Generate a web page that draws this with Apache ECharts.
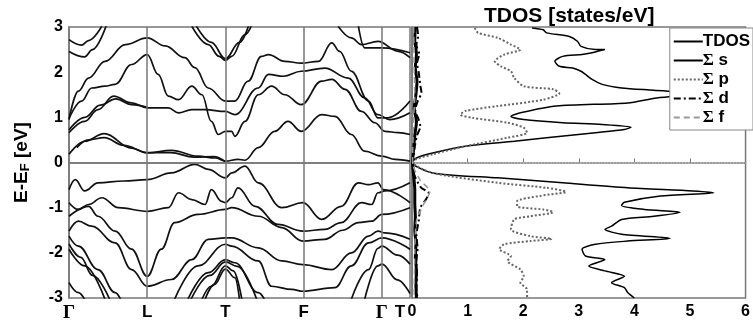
<!DOCTYPE html>
<html>
<head>
<meta charset="utf-8">
<script src="https://cdn.jsdelivr.net/npm/echarts@6/dist/echarts.min.js"></script>
<style>
  html, body { margin: 0; padding: 0; background: #fff; }
  #chart { width: 753px; height: 326px; }
</style>
</head>
<body>
<div id="chart"></div>
<script>
// high-symmetry points along the k path
const kPoints = [0, 1, 2, 3, 4, 4.36];
const kLabels = ['Γ', 'L', 'T', 'F', 'Γ', 'T'];
const energyTicks = [-3, -2, -1, 0, 1, 2, 3];
const dosTicks = [0, 1, 2, 3, 4, 5, 6];

// bands: [k, E-EF]
const bandC1 = [[0,0.18],[0.2,0.47],[0.45,0.64],[0.8,0.32],[1.0,0.21],[1.31,0.27],[1.65,0.14],[1.87,0.1],[2.0,0.03],[2.16,0.07],[2.25,0.05],[2.42,0.33],[2.63,0.69],[2.8,0.91],[2.97,0.69],[3.23,1.06],[3.4,1.02],[3.61,0.62],[3.78,0.25],[4.0,0.14],[4.17,0.07],[4.36,0.03]];
const bandC1b = [[0.1,0.33],[0.25,0.5],[0.45,0.55],[0.7,0.38],[1.0,0.22],[1.3,0.22],[1.6,0.12],[1.85,0.13],[2.0,0.02]];
const bandC2 = [[0,0.66],[0.2,0.91],[0.37,1.17],[0.57,1.47],[0.8,1.32],[1.0,1.21],[1.27,1.21],[1.4,1.1],[1.57,1.17],[1.74,1.17],[2.0,1.13],[2.12,1.06],[2.42,1.65],[2.55,1.95],[2.74,1.91],[2.97,2.02],[3.27,2.09],[3.57,1.87],[3.78,1.43],[3.95,1.06],[4.1,0.95],[4.36,1.1]];
const bandC2b = [[0,0.72],[0.2,1.0],[0.4,1.27],[0.6,1.41],[0.8,1.28],[1.0,1.22]];
const bandC3 = [[0,0.97],[0.16,1.36],[0.29,1.65],[0.46,1.69],[0.59,1.73],[0.8,2.17],[1.0,2.39],[1.14,1.95],[1.27,1.47],[1.4,1.39],[1.57,1.69],[1.7,1.5],[1.82,0.91],[1.91,0.62],[2.0,0.69],[2.08,0.69],[2.12,0.58],[2.25,0.91],[2.42,1.5],[2.59,1.69],[2.76,1.5],[2.97,1.28],[3.23,1.8],[3.36,1.84],[3.53,1.62],[3.74,1.13],[3.91,0.88],[4.04,0.69],[4.21,0.66],[4.36,0.62]];
const bandC4 = [[0,0.95],[0.12,1.58],[0.25,1.87],[0.46,2.24],[0.72,2.61],[1.0,2.76],[1.23,2.58],[1.48,2.32],[1.61,2.1],[1.78,1.65],[2.0,1.36],[2.12,1.36],[2.29,1.8],[2.46,2.35],[2.55,2.39],[2.76,2.24],[2.97,2.2],[3.19,2.24],[3.36,2.65],[3.46,2.46],[3.61,2.02],[3.83,1.36],[3.95,0.99],[4.08,0.99],[4.36,1.36]];
const bandC5 = [[0,2.72],[0.16,2.6],[0.25,2.7],[0.42,3.02]];
const bandC6 = [[0,2.46],[0.2,2.34],[0.3,2.5],[0.48,3.05]];
const bandC7 = [[1.57,3.02],[1.78,2.61],[1.92,2.35],[2.0,2.26],[2.08,2.35],[2.25,2.83],[2.33,3.02]];
const bandC7b = [[1.62,3.05],[1.82,2.66],[2.0,2.3],[2.18,2.66],[2.3,3.05]];
const bandC8 = [[3.44,3.02],[3.61,2.76],[3.74,2.61],[3.95,2.68],[4.21,2.46],[4.36,2.32]];
const bandC9 = [[3.7,3.02],[3.78,2.54],[4.0,2.54],[4.36,2.43]];
const bandV1 = [[0,-0.6],[0.08,-0.38],[0.2,-0.63],[0.37,-0.45],[0.7,-0.41],[1.0,-0.38],[1.31,-0.23],[1.61,-0.04],[1.78,-0.15],[2.0,-0.34],[2.08,-0.23],[2.25,-0.08],[2.42,-0.45],[2.72,-1.0],[2.99,-0.89],[3.23,-1.26],[3.48,-0.97],[3.7,-0.45],[3.83,-0.49],[3.95,-0.45],[4.02,-0.6],[4.36,-0.89]];
const bandV2 = [[0,-0.89],[0.12,-1.04],[0.25,-0.93],[0.42,-0.78],[0.63,-1.0],[1.0,-1.08],[1.27,-1.0],[1.4,-0.67],[1.57,-0.82],[1.74,-0.93],[1.82,-0.6],[1.95,-0.86],[2.0,-0.89],[2.08,-0.78],[2.16,-0.56],[2.38,-0.97],[2.67,-1.37],[2.99,-1.52],[3.27,-1.48],[3.48,-1.33],[3.74,-0.89],[3.87,-0.93],[3.95,-0.67],[4.04,-0.63],[4.36,-0.45]];
const bandV3 = [[0,-1.19],[0.25,-0.97],[0.37,-1.19],[0.59,-1.52],[0.8,-1.92],[1.0,-2.52],[1.18,-1.92],[1.35,-1.33],[1.65,-1.15],[2.0,-1.04],[2.08,-1.0],[2.42,-1.19],[2.72,-1.44],[2.99,-1.74],[3.27,-1.7],[3.5,-1.5],[3.7,-1.33],[3.87,-1.3],[4.0,-1.15],[4.36,-1.0]];
const bandV4 = [[0,-1.52],[0.12,-1.3],[0.29,-1.41],[0.59,-1.78],[0.8,-2.37],[1.0,-2.74],[1.31,-2.59],[1.57,-2.15],[1.78,-1.7],[2.0,-1.67],[2.08,-1.67],[2.42,-1.89],[2.72,-2.18],[2.99,-2.26],[3.36,-2.37],[3.61,-2.0],[3.83,-1.63],[3.95,-1.52],[4.04,-1.56],[4.36,-1.7]];
const bandV5 = [[1.35,-3.03],[1.65,-2.29],[2.0,-1.81],[2.08,-1.85],[2.42,-2.18],[2.59,-2.74],[2.85,-2.81],[2.99,-2.85],[3.4,-2.77],[3.61,-2.29],[3.83,-1.78],[4.0,-1.67],[4.36,-1.92]];
const bandV6 = [[1.52,-3.03],[1.78,-2.44],[2.0,-2.15],[2.12,-2.22],[2.42,-2.88],[2.5,-3.03]];
const bandV6b = [[1.56,-3.03],[1.8,-2.5],[2.0,-2.2],[2.15,-2.3],[2.4,-3.03]];
const bandV7 = [[1.7,-3.03],[1.82,-2.74],[2.0,-2.29],[2.1,-2.4],[2.21,-3.03]];
const bandV7b = [[1.74,-3.03],[1.86,-2.7],[2.0,-2.36],[2.12,-2.55],[2.18,-3.03]];
const bandV8 = [[0,-1.63],[0.12,-1.85],[0.37,-2.37],[0.59,-2.88],[0.66,-3.03]];
const bandV9 = [[0,-1.92],[0.2,-2.29],[0.46,-3.03]];
const bandV9b = [[0,-1.8],[0.15,-2.1],[0.3,-2.5],[0.52,-3.03]];
const bandV10 = [[0,-2.66],[0.12,-2.88],[0.2,-3.03]];
const bandV11 = [[3.61,-3.03],[3.83,-2.37],[3.95,-1.9],[4.0,-1.85],[4.2,-2.05],[4.36,-2.25]];
const bandV12 = [[3.78,-3.03],[3.95,-2.29],[4.0,-2.25],[4.2,-2.6],[4.36,-2.9]];

const bands = [bandC1, bandC1b, bandC2, bandC2b, bandC3, bandC4, bandC5, bandC6, bandC7, bandC7b,
  bandC8, bandC9, bandV1, bandV2, bandV3, bandV4, bandV5, bandV6, bandV6b, bandV7, bandV7b,
  bandV8, bandV9, bandV9b, bandV10, bandV11, bandV12];

// DOS curves: [states/eV, E-EF]
const tdos = [[2.16,2.98],[2.36,2.94],[2.42,2.87],[2.83,2.79],[2.98,2.68],[3.04,2.57],[3.3,2.5],[3.47,2.5],[3.24,2.43],[3.06,2.39],[2.71,2.35],[2.57,2.24],[2.65,2.13],[2.89,2.09],[3.04,2.02],[3.12,1.95],[3.24,1.84],[3.42,1.73],[3.77,1.65],[4.35,1.6],[5.2,1.52],[4.4,1.43],[3.88,1.32],[2.6,1.25],[1.95,1.1],[1.78,1.02],[2.01,0.95],[2.71,0.88],[3.42,0.84],[3.94,0.78],[3.82,0.73],[3.3,0.66],[2.42,0.55],[1.84,0.47],[0.96,0.36],[0.37,0.21],[0.08,0.1],[0.0,0.0],[0.37,-0.23],[1.54,-0.34],[2.71,-0.45],[3.88,-0.56],[5.05,-0.63],[5.43,-0.67],[4.47,-0.74],[3.82,-0.88],[3.77,-0.95],[4.18,-1.04],[4.82,-1.1],[4.35,-1.19],[3.77,-1.26],[3.59,-1.41],[3.47,-1.48],[3.77,-1.59],[4.64,-1.68],[3.88,-1.74],[3.3,-1.81],[3.06,-1.92],[3.12,-2.07],[3.47,-2.15],[3.18,-2.29],[3.47,-2.4],[3.82,-2.52],[3.59,-2.66],[3.82,-2.77],[3.88,-2.88],[4.0,-3.0]];
const dosS = [[0.06,3.0],[0.05,2.7],[0.08,2.4],[0.06,2.1],[0.09,1.8],[0.07,1.5],[0.04,1.2],[0.08,0.9],[0.05,0.6],[0.03,0.3],[0.01,0.0],[0.03,-0.3],[0.05,-0.6],[0.05,-0.9],[0.06,-1.2],[0.05,-1.5],[0.07,-1.8],[0.06,-2.1],[0.08,-2.4],[0.07,-2.7],[0.08,-3.0]];
const dosP = [[1.13,2.98],[1.19,2.87],[1.54,2.76],[1.78,2.61],[1.95,2.5],[1.66,2.39],[1.49,2.24],[1.6,2.13],[1.78,2.02],[1.84,1.87],[2.01,1.69],[2.54,1.62],[2.65,1.53],[2.36,1.39],[1.54,1.25],[0.96,1.14],[0.87,1.06],[1.08,0.99],[1.72,0.88],[2.01,0.77],[2.07,0.66],[1.72,0.55],[0.96,0.36],[0.37,0.18],[0.02,0.03],[0.02,0.0],[0.37,-0.23],[1.54,-0.45],[2.42,-0.56],[2.77,-0.65],[2.3,-0.74],[1.89,-0.86],[1.89,-0.97],[2.36,-1.04],[2.54,-1.1],[2.13,-1.19],[1.84,-1.26],[1.78,-1.48],[2.13,-1.63],[2.51,-1.69],[2.13,-1.74],[1.66,-1.81],[1.57,-1.92],[1.78,-2.07],[1.72,-2.18],[1.95,-2.37],[2.01,-2.52],[1.95,-2.66],[2.07,-2.81],[2.07,-3.0]];
const dosD = [[0.09,3.0],[0.11,2.8],[0.08,2.6],[0.13,2.4],[0.09,2.2],[0.12,2.0],[0.15,1.7],[0.17,1.55],[0.1,1.35],[0.06,1.15],[0.12,0.95],[0.15,0.8],[0.09,0.6],[0.05,0.35],[0.02,0.1],[0.0,0.0],[0.05,-0.3],[0.16,-0.55],[0.3,-0.68],[0.25,-0.82],[0.15,-1.0],[0.12,-1.3],[0.08,-1.6],[0.1,-1.9],[0.08,-2.2],[0.09,-2.5],[0.08,-2.8],[0.1,-3.0]];
const dosF = [[0.03,3.0],[0.04,2.0],[0.05,1.5],[0.03,1.0],[0.01,0.0],[0.14,-0.38],[0.32,-0.64],[0.19,-0.97],[0.08,-1.3],[0.05,-2.0],[0.04,-3.0]];

const chart = echarts.init(document.getElementById('chart'), null, { renderer: 'canvas' });

const boldFont = { fontFamily: 'Liberation Sans', fontWeight: 'bold', color: '#000' };

const bandSeries = bands.map((b, i) => ({
    type: 'line',
    xAxisIndex: 0,
    yAxisIndex: 0,
    data: b,
    smooth: 0.4,
    smoothMonotone: 'x',
    symbol: 'none',
    silent: true,
    clip: true,
    lineStyle: { color: '#111', width: 1.7 },
    z: 2,
    markLine: i === 0 ? {
        silent: true,
        symbol: ['none', 'none'],
        label: { show: false },
        lineStyle: { color: '#777', width: 1.5, type: 'solid' },
        data: [{ yAxis: 0 }].concat(kPoints.slice(1, 5).map((k) => ({ xAxis: k }))),
    } : undefined,
}));

const dosLine = (name, data, lineStyle, extra) => Object.assign({
    name,
    type: 'line',
    xAxisIndex: 1,
    yAxisIndex: 1,
    data,
    smooth: 0.25,
    symbol: 'none',
    clip: true,
    lineStyle,
    itemStyle: { color: lineStyle.color },
    z: 2,
}, extra || {});

const option = {
    animation: false,
    title: {
        text: 'TDOS [states/eV]',
        left: 479,
        top: 1,
        textStyle: { ...boldFont, fontSize: 21 },
    },
    legend: {
        orient: 'vertical',
        right: 0,
        top: 28,
        padding: [5, 3, 4, 3],
        itemGap: 2,
        itemWidth: 29,
        itemHeight: 14,
        backgroundColor: '#fff',
        borderColor: '#888',
        borderWidth: 1,
        itemStyle: { opacity: 0 },
        textStyle: {
            ...boldFont,
            fontSize: 17,
            lineHeight: 17,
            padding: [0, 0, 0, -5],
            rich: {
                sig: { fontFamily: 'Liberation Serif', fontWeight: 'bold', fontSize: 17, lineHeight: 17, color: '#000' },
            },
        },
        formatter: (n) => n.replace('Σ ', '{sig|Σ} '),
        data: ['TDOS', 'Σ s', 'Σ p', 'Σ d', 'Σ f'],
        z: 100,
    },
    grid: [
        { left: 69, top: 27, width: 341, height: 271, show: true, borderColor: '#777', borderWidth: 1.5 },
        { left: 412, top: 27, width: 341, height: 271, show: true, borderColor: '#777', borderWidth: 1.5 },
    ],
    xAxis: [
        {
            type: 'value',
            gridIndex: 0,
            min: 0,
            max: kPoints[kPoints.length - 1],
            axisLine: { show: true, lineStyle: { color: '#777', width: 1.5 } },
            axisTick: { show: false },
            splitLine: { show: false },
            axisLabel: {
                customValues: kPoints,
                margin: 6,
                ...boldFont,
                fontSize: 17,
                formatter: (v) => {
                    const i = kPoints.indexOf(v);
                    if (i < 0) return '';
                    if (kLabels[i] === 'Γ') return '{g|Γ}';
                    if (i === kPoints.length - 1) return '{te|' + kLabels[i] + '}';
                    return kLabels[i];
                },
                rich: {
                    g: { fontFamily: 'Liberation Serif', fontWeight: 'bold', fontSize: 19, color: '#000' },
                    te: { ...boldFont, fontSize: 17, padding: [0, 20, 0, 0] },
                },
            },
        },
        {
            type: 'value',
            gridIndex: 1,
            min: 0,
            max: 6,
            interval: 1,
            axisLine: { show: true, lineStyle: { color: '#777', width: 1.5 } },
            axisTick: { show: true, inside: true, length: 4, lineStyle: { color: '#777' } },
            splitLine: { show: false },
            axisLabel: {
                margin: 6,
                ...boldFont,
                fontSize: 16,
                showMaxLabel: true,
                alignMaxLabel: 'center',
                formatter: (v) => (dosTicks.includes(v) ? String(v) : ''),
            },
        },
    ],
    yAxis: [
        {
            type: 'value',
            gridIndex: 0,
            min: -3,
            max: 3,
            interval: 1,
            axisLine: { show: true, lineStyle: { color: '#777', width: 1.5 } },
            axisTick: { show: false },
            splitLine: { show: false },
            axisLabel: {
                margin: 6,
                ...boldFont,
                fontSize: 16,
                formatter: (v) => (energyTicks.includes(v) ? String(v) : ''),
            },
            name: 'E-E{sub|F} [eV]',
            nameLocation: 'middle',
            nameRotate: 90,
            nameGap: 37,
            nameTextStyle: {
                ...boldFont,
                fontSize: 19,
                rich: {
                    sub: { ...boldFont, fontSize: 13, padding: [8, 0, 0, 0] },
                },
            },
        },
        {
            type: 'value',
            gridIndex: 1,
            min: -3,
            max: 3,
            interval: 1,
            axisLine: { show: true, lineStyle: { color: '#777', width: 1.5 } },
            axisTick: { show: false },
            axisLabel: { show: false },
            splitLine: { show: false },
        },
    ],
    series: bandSeries.concat([
        dosLine('TDOS', tdos, { color: '#000', width: 1.5 }, {
            markLine: {
                silent: true,
                symbol: ['none', 'none'],
                label: { show: false },
                lineStyle: { color: '#bbb', width: 1.5, type: 'dotted' },
                data: [{ yAxis: 0 }],
            },
        }),
        dosLine('Σ s', dosS, { color: '#000', width: 3 }),
        dosLine('Σ p', dosP, { color: '#666', width: 2, type: 'dotted' }),
        dosLine('Σ d', dosD, { color: '#000', width: 2, type: [7, 3, 2, 3] }),
        dosLine('Σ f', dosF, { color: '#999', width: 1.5, type: [6, 4] }),
    ]),
};

chart.setOption(option);
</script>
</body>
</html>
